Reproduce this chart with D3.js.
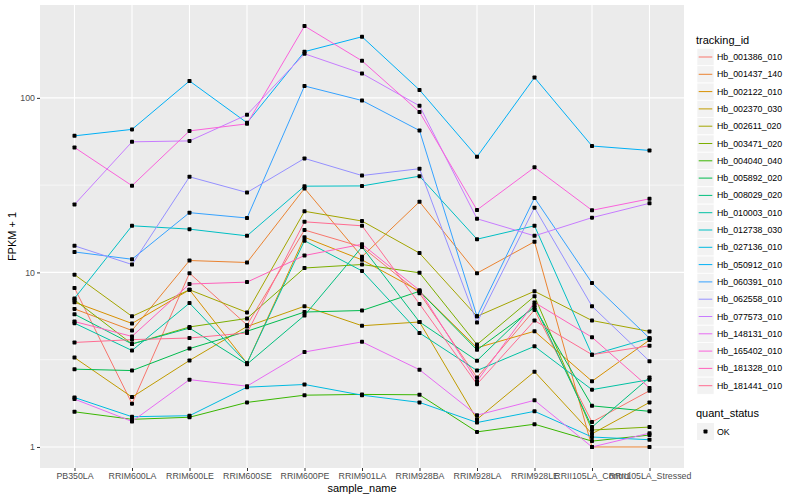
<!DOCTYPE html>
<html lang="en">
<head>
<meta charset="UTF-8">
<title>FPKM by sample</title>
<script src="https://cdn.jsdelivr.net/npm/d3@7"></script>
<style>
    body { margin: 0; background: #fff; }
    text { font-family: "Liberation Sans", Arial, sans-serif; }
</style>
</head>
<body>
<script>
    // x categories
    const samples = ["PB350LA", "RRIM600LA", "RRIM600LE", "RRIM600SE", "RRIM600PE", "RRIM901LA",
        "RRIM928BA", "RRIM928LA", "RRIM928LE", "RRII105LA_Control", "RRII105LA_Stressed"];

    const trackingIds = ["Hb_001386_010", "Hb_001437_140", "Hb_002122_010", "Hb_002370_030", "Hb_002611_020",
        "Hb_003471_020", "Hb_004040_040", "Hb_005892_020", "Hb_008029_020", "Hb_010003_010",
        "Hb_012738_030", "Hb_027136_010", "Hb_050912_010", "Hb_060391_010", "Hb_062558_010",
        "Hb_077573_010", "Hb_148131_010", "Hb_165402_010", "Hb_181328_010", "Hb_181441_010"];

    // ggplot hue palette, 20 levels
    const hueColors = ["#F8766D", "#EA8331", "#D89000", "#C09B00", "#A3A500", "#7CAE00", "#39B600", "#00BB4E",
        "#00BF7D", "#00C1A3", "#00BFC4", "#00BAE0", "#00B0F6", "#35A2FF", "#9590FF", "#C77CFF",
        "#E76BF3", "#FA62DB", "#FF62BC", "#FF6C91"];

    // FPKM + 1, one array per tracking id (same order as samples)
    const hb001386 = [8.15, 1.77, 9.9, 5.0, 17.5, 14.0, 7.6, 2.5, 6.1, 1.39, 2.1];
    const hb001437 = [6.18, 4.65, 11.7, 11.4, 30.3, 12.3, 25.4, 9.9, 15.0, 1.0, 1.0];
    const hb002122 = [6.75, 5.1, 7.95, 3.02, 15.9, 11.8, 7.8, 3.7, 4.6, 2.38, 4.1];
    const hb002370 = [3.25, 1.93, 3.13, 4.9, 6.4, 4.95, 5.2, 1.44, 2.7, 1.19, 1.8];
    const hb002611 = [9.71, 5.6, 7.95, 5.9, 22.4, 19.7, 12.9, 5.6, 7.8, 5.3, 4.59];
    const hb003471 = [6.96, 3.89, 4.87, 5.45, 10.6, 11.1, 9.95, 3.86, 7.3, 1.25, 1.3];
    const hb004040 = [1.59, 1.44, 1.48, 1.8, 1.98, 2.0, 1.99, 1.22, 1.35, 1.08, 1.17];
    const hb005892 = [2.79, 2.74, 3.66, 4.6, 5.93, 6.05, 7.8, 3.6, 6.3, 1.72, 1.6];
    const hb008029 = [5.76, 3.89, 4.8, 2.98, 5.67, 14.0, 5.2, 3.12, 6.5, 1.3, 2.5];
    const hb010003 = [5.12, 3.57, 6.67, 3.02, 15.2, 10.2, 4.5, 2.74, 3.77, 2.13, 2.43];
    const hb012738 = [7.1, 18.5, 17.7, 16.2, 31.2, 31.3, 35.6, 15.5, 18.5, 3.37, 4.2];
    const hb027136 = [1.92, 1.49, 1.51, 2.2, 2.28, 1.98, 1.8, 1.38, 1.6, 1.14, 1.1];
    const hb050912 = [60.6, 66, 125, 72, 184, 224, 111, 46, 131, 53, 50];
    const hb060391 = [13.1, 11.9, 22, 20.5, 117, 96.6, 65, 5.6, 26.7, 8.7, 4.2];
    const hb062558 = [14.2, 11.1, 35.3, 28.7, 45, 35.9, 39.3, 5.16, 23.5, 6.4, 3.1];
    const hb077573 = [24.5, 56, 56.7, 80, 179, 138, 90, 20.3, 16.2, 20.6, 24.9];
    const hb148131 = [1.88, 1.40, 2.43, 2.23, 3.5, 4.0, 2.77, 1.52, 1.85, 1.0, 1.2];
    const hb165402 = [52, 31.4, 64.7, 71, 258, 163, 83, 22.8, 40, 22.7, 26.4];
    const hb181328 = [5.23, 4.3, 8.58, 8.8, 12.5, 14.5, 7.9, 2.38, 6.73, 4.25, 2.18];
    const hb181441 = [3.97, 4.12, 4.21, 4.5, 19.5, 18.5, 6.6, 2.29, 5.3, 3.38, 3.8];

    const allValues = [hb001386, hb001437, hb002122, hb002370, hb002611, hb003471, hb004040, hb005892,
        hb008029, hb010003, hb012738, hb027136, hb050912, hb060391, hb062558, hb077573,
        hb148131, hb165402, hb181328, hb181441];

    const yTicks = [1, 10, 100];
    const yMinor = [Math.sqrt(10), Math.sqrt(1000)];

    const series = trackingIds.map((id, i) => ({
        id: id,
        color: hueColors[i],
        points: samples.map((s, j) => ({ sample: s, value: allValues[i][j] }))
    }));

    const width = 800, height = 500;
    const panel = { left: 40, top: 5, right: 684, bottom: 468 };

    const svg = d3.select("body").append("svg")
        .attr("width", width)
        .attr("height", height);

    // discrete x with ggplot's 0.6 expansion
    const xScale = d3.scalePoint()
        .domain(samples)
        .range([panel.left, panel.right])
        .padding(0.6);

    // log y with 5% expansion on the log range
    const logMin = Math.log10(d3.min(allValues.flat()));
    const logMax = Math.log10(d3.max(allValues.flat()));
    const pad = (logMax - logMin) * 0.05;
    const yScale = d3.scaleLog()
        .domain([Math.pow(10, logMin - pad), Math.pow(10, logMax + pad)])
        .range([panel.bottom, panel.top]);

    // panel background
    svg.append("rect")
        .attr("x", panel.left)
        .attr("y", panel.top)
        .attr("width", panel.right - panel.left)
        .attr("height", panel.bottom - panel.top)
        .attr("fill", "#EBEBEB");

    const grid = svg.append("g");
    yMinor.forEach(v => {
        grid.append("line")
            .attr("x1", panel.left).attr("x2", panel.right)
            .attr("y1", yScale(v)).attr("y2", yScale(v))
            .attr("stroke", "#fff").attr("stroke-width", 0.6);
    });
    yTicks.forEach(v => {
        grid.append("line")
            .attr("x1", panel.left).attr("x2", panel.right)
            .attr("y1", yScale(v)).attr("y2", yScale(v))
            .attr("stroke", "#fff").attr("stroke-width", 1.1);
    });
    samples.forEach(s => {
        grid.append("line")
            .attr("x1", xScale(s)).attr("x2", xScale(s))
            .attr("y1", panel.top).attr("y2", panel.bottom)
            .attr("stroke", "#fff").attr("stroke-width", 1.1);
    });

    // lines, one per tracking id
    const line = d3.line()
        .x(d => xScale(d.sample))
        .y(d => yScale(d.value));

    svg.append("g")
        .selectAll("path")
        .data(series)
        .join("path")
        .attr("d", d => line(d.points))
        .attr("fill", "none")
        .attr("stroke", d => d.color)
        .attr("stroke-width", 1);

    // points (quant_status = OK)
    svg.append("g")
        .selectAll("rect")
        .data(series.flatMap(d => d.points))
        .join("rect")
        .attr("x", d => xScale(d.sample) - 2)
        .attr("y", d => yScale(d.value) - 2)
        .attr("width", 4)
        .attr("height", 4)
        .attr("rx", 0.8)
        .attr("fill", "#000");

    // axes
    const xAxis = d3.axisBottom(xScale).tickSize(3).tickPadding(2);
    const gx = svg.append("g")
        .attr("transform", `translate(0,${panel.bottom})`)
        .call(xAxis);
    gx.select(".domain").remove();
    gx.selectAll(".tick line").attr("stroke", "#333");
    gx.selectAll(".tick text").attr("fill", "#4D4D4D").attr("font-size", "8.8px")
        .attr("font-family", "Liberation Sans, Arial, sans-serif");

    const yAxis = d3.axisLeft(yScale).tickValues(yTicks).tickFormat(d3.format("d")).tickSize(3).tickPadding(2);
    const gy = svg.append("g")
        .attr("transform", `translate(${panel.left},0)`)
        .call(yAxis);
    gy.select(".domain").remove();
    gy.selectAll(".tick line").attr("stroke", "#333");
    gy.selectAll(".tick text").attr("fill", "#4D4D4D").attr("font-size", "8.8px")
        .attr("font-family", "Liberation Sans, Arial, sans-serif");

    // axis titles
    svg.append("text")
        .attr("x", (panel.left + panel.right) / 2)
        .attr("y", 492)
        .attr("text-anchor", "middle")
        .attr("font-size", "11px")
        .text("sample_name");

    svg.append("text")
        .attr("transform", `translate(16,${(panel.top + panel.bottom) / 2}) rotate(-90)`)
        .attr("text-anchor", "middle")
        .attr("font-size", "11px")
        .text("FPKM + 1");

    // legend: tracking_id
    const legend = svg.append("g").attr("transform", "translate(697,0)");
    legend.append("text")
        .attr("x", -1)
        .attr("y", 44)
        .attr("font-size", "11px")
        .text("tracking_id");

    const keyH = 17.3, keyTop = 48.5;
    series.forEach((d, i) => {
        const g = legend.append("g").attr("transform", `translate(0,${keyTop + i * keyH})`);
        g.append("rect")
            .attr("x", 0).attr("y", 0)
            .attr("width", 17).attr("height", 17)
            .attr("fill", "#F2F2F2")
            .attr("stroke", "#fff").attr("stroke-width", 0.6);
        g.append("line")
            .attr("x1", 1.7).attr("x2", 15.3)
            .attr("y1", 8.5).attr("y2", 8.5)
            .attr("stroke", d.color).attr("stroke-width", 1);
        g.append("text")
            .attr("x", 20)
            .attr("y", 8.5)
            .attr("dy", "0.35em")
            .attr("font-size", "8.8px")
            .text(d.id);
    });

    // legend: quant_status
    legend.append("text")
        .attr("x", -1)
        .attr("y", 416.5)
        .attr("font-size", "11px")
        .text("quant_status");
    const okKey = legend.append("g").attr("transform", "translate(0,423)");
    okKey.append("rect")
        .attr("width", 17).attr("height", 17)
        .attr("fill", "#F2F2F2");
    okKey.append("rect")
        .attr("x", 6.5).attr("y", 6.5)
        .attr("width", 4).attr("height", 4)
        .attr("rx", 0.8)
        .attr("fill", "#000");
    okKey.append("text")
        .attr("x", 20)
        .attr("y", 8.5)
        .attr("dy", "0.35em")
        .attr("font-size", "8.8px")
        .text("OK");
</script>
</body>
</html>
